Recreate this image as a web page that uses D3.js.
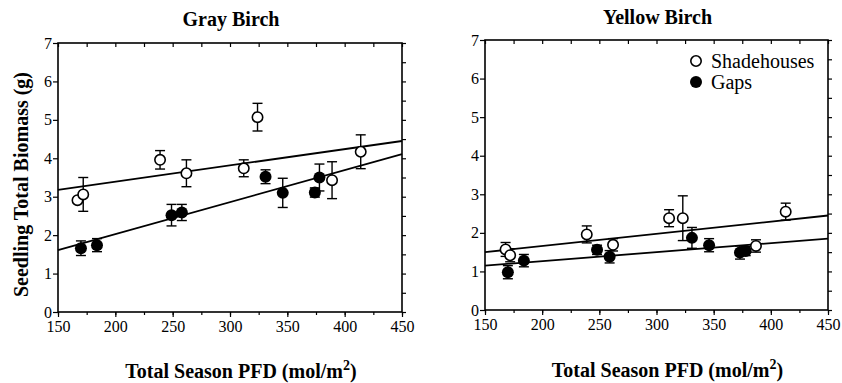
<!DOCTYPE html>
<html>
<head>
<meta charset="utf-8">
<script src="https://cdn.jsdelivr.net/npm/d3@7"></script>
<style>
  body { margin: 0; background: #fff; }
  svg { display: block; }
  svg text { font-family: "Liberation Serif", "Times New Roman", Times, serif; }
</style>
</head>
<body>
<div id="chart"></div>
<script>
// Data
const xTicks = [150, 200, 250, 300, 350, 400, 450]
const yTicks = [0, 1, 2, 3, 4, 5, 6, 7]
const fitX = [150, 450]

// Gray Birch
const grayShadeX = [167, 172, 239, 262, 312, 324, 389, 414]
const grayShadeY = [2.91, 3.06, 3.96, 3.61, 3.74, 5.07, 3.43, 4.17]
const grayShadeSE = [0, 0.44, 0.24, 0.35, 0.22, 0.36, 0.48, 0.44]
const grayGapsX = [170, 184, 249, 258, 331, 346, 374, 378]
const grayGapsY = [1.66, 1.74, 2.52, 2.59, 3.52, 3.10, 3.11, 3.50]
const grayGapsSE = [0.19, 0.17, 0.28, 0.21, 0.18, 0.38, 0.12, 0.35]
const grayShadeFit = [3.18, 4.45]
const grayGapsFit = [1.61, 4.11]

// Yellow Birch
const yellowShadeX = [168, 172, 239, 262, 311, 323, 387, 413]
const yellowShadeY = [1.57, 1.42, 1.96, 1.69, 2.38, 2.38, 1.66, 2.55]
const yellowShadeSE = [0.18, 0.17, 0.22, 0.16, 0.22, 0.58, 0.16, 0.22]
const yellowGapsX = [170, 184, 248, 259, 331, 346, 373, 378]
const yellowGapsY = [0.98, 1.28, 1.56, 1.38, 1.87, 1.68, 1.49, 1.53]
const yellowGapsSE = [0.17, 0.16, 0.12, 0.16, 0.27, 0.17, 0.17, 0.12]
const yellowShadeFit = [1.50, 2.45]
const yellowGapsFit = [1.15, 1.85]

const width = 842,
  height = 383,
  serif = '"Liberation Serif", "Times New Roman", Times, serif'

const svg = d3.select('#chart')
  .append('svg')
  .attr('width', width)
  .attr('height', height)

const toPoints = (xs, ys, se) => xs.map((x, i) => ({ x: x, y: ys[i], se: se[i] }))

const panels = [
  {
    title: 'Gray Birch', titleY: 26, labelY: 378,
    box: { left: 58, right: 402, bottom: 312, top: 43 },
    shade: toPoints(grayShadeX, grayShadeY, grayShadeSE),
    gaps: toPoints(grayGapsX, grayGapsY, grayGapsSE),
    fits: [grayShadeFit, grayGapsFit],
    yLabel: true, legend: false
  },
  {
    title: 'Yellow Birch', titleY: 23.5, labelY: 377,
    box: { left: 485, right: 828, bottom: 310, top: 40 },
    shade: toPoints(yellowShadeX, yellowShadeY, yellowShadeSE),
    gaps: toPoints(yellowGapsX, yellowGapsY, yellowGapsSE),
    fits: [yellowShadeFit, yellowGapsFit],
    yLabel: false, legend: true
  }
]

let drawPanel = (p) => {
  const b = p.box
  const x = d3.scaleLinear().domain([150, 450]).range([b.left, b.right])
  const y = d3.scaleLinear().domain([0, 7]).range([b.bottom, b.top])
  const g = svg.append('g')

  const minorX = d3.range(150, 451, 25)
  const minorY = d3.range(0, 7.01, 0.5)

  // bottom axis
  g.append('g')
    .attr('transform', `translate(0,${b.bottom})`)
    .call(d3.axisBottom(x).tickValues(minorX).tickSize(3).tickSizeOuter(0).tickFormat(''))
  g.append('g')
    .attr('transform', `translate(0,${b.bottom})`)
    .call(d3.axisBottom(x).tickValues(xTicks).tickSize(5).tickSizeOuter(0).tickPadding(4).tickFormat(d3.format('d')))
  // top axis, ticks inward
  g.append('g')
    .attr('transform', `translate(0,${b.top})`)
    .call(d3.axisBottom(x).tickValues(minorX).tickSize(4).tickSizeOuter(0).tickFormat(''))
  // left axis
  g.append('g')
    .attr('transform', `translate(${b.left},0)`)
    .call(d3.axisLeft(y).tickValues(yTicks).tickSize(5).tickSizeOuter(0).tickPadding(1).tickFormat(d3.format('d')))
  // right axis
  g.append('g')
    .attr('transform', `translate(${b.right},0)`)
    .call(d3.axisRight(y).tickValues(minorY).tickSize(4).tickSizeOuter(0).tickFormat(''))

  g.selectAll('.domain').remove()
  g.selectAll('g').attr('font-family', serif).attr('font-size', 16)
  g.selectAll('.tick line').attr('stroke', '#000').attr('stroke-width', 1.2)
  g.selectAll('.tick text').attr('fill', '#000')

  // frame
  g.append('rect')
    .attr('x', b.left).attr('y', b.top)
    .attr('width', b.right - b.left).attr('height', b.bottom - b.top)
    .attr('fill', 'none').attr('stroke', '#000').attr('stroke-width', 1.6)

  // fitted lines
  p.fits.forEach(f => {
    g.append('line')
      .attr('x1', x(fitX[0])).attr('y1', y(f[0]))
      .attr('x2', x(fitX[1])).attr('y2', y(f[1]))
      .attr('stroke', '#000').attr('stroke-width', 1.8)
  })

  // error bars
  const cap = 5
  const bars = [...p.shade, ...p.gaps].filter(d => d.se > 0)
  const eb = g.append('g').attr('stroke', '#000').attr('stroke-width', 1.4)
  eb.selectAll('line.v').data(bars).enter().append('line')
    .attr('x1', d => x(d.x)).attr('x2', d => x(d.x))
    .attr('y1', d => y(d.y + d.se)).attr('y2', d => y(d.y - d.se))
  eb.selectAll('line.t').data(bars).enter().append('line')
    .attr('x1', d => x(d.x) - cap).attr('x2', d => x(d.x) + cap)
    .attr('y1', d => y(d.y + d.se)).attr('y2', d => y(d.y + d.se))
  eb.selectAll('line.b').data(bars).enter().append('line')
    .attr('x1', d => x(d.x) - cap).attr('x2', d => x(d.x) + cap)
    .attr('y1', d => y(d.y - d.se)).attr('y2', d => y(d.y - d.se))

  // points
  g.selectAll('circle.shade').data(p.shade).enter().append('circle')
    .attr('cx', d => x(d.x)).attr('cy', d => y(d.y)).attr('r', 5.2)
    .attr('fill', '#fff').attr('stroke', '#000').attr('stroke-width', 1.6)
  g.selectAll('circle.gaps').data(p.gaps).enter().append('circle')
    .attr('cx', d => x(d.x)).attr('cy', d => y(d.y)).attr('r', 6)
    .attr('fill', '#000')

  // title
  g.append('text')
    .attr('x', (b.left + b.right) / 2 + 1).attr('y', p.titleY)
    .attr('text-anchor', 'middle')
    .attr('font-family', serif)
    .style('font-size', '20px').style('font-weight', 'bold')
    .text(p.title)

  // x label
  const xl = g.append('text')
    .attr('x', (b.left + b.right) / 2 + 11).attr('y', p.labelY)
    .attr('text-anchor', 'middle')
    .attr('font-family', serif)
    .style('font-size', '20px').style('font-weight', 'bold')
  xl.append('tspan').text('Total Season PFD (mol/m')
  xl.append('tspan').attr('dy', -8).style('font-size', '14px').text('2')
  xl.append('tspan').attr('dy', 8).text(')')

  if (p.yLabel) {
    g.append('text')
      .attr('transform', `translate(28,${(b.top + b.bottom) / 2 + 7}) rotate(-90)`)
      .attr('text-anchor', 'middle')
      .attr('font-family', serif)
      .style('font-size', '20px').style('font-weight', 'bold')
      .text('Seedling Total Biomass (g)')
  }

  if (p.legend) {
    const lx = b.right - 132, ly = b.top + 21
    g.append('circle').attr('cx', lx).attr('cy', ly).attr('r', 5.2)
      .attr('fill', '#fff').attr('stroke', '#000').attr('stroke-width', 1.6)
    g.append('text').attr('x', lx + 15).attr('y', ly + 6.5)
      .attr('font-family', serif).style('font-size', '20px').text('Shadehouses')
    g.append('circle').attr('cx', lx).attr('cy', ly + 21).attr('r', 6)
      .attr('fill', '#000')
    g.append('text').attr('x', lx + 15).attr('y', ly + 27.5)
      .attr('font-family', serif).style('font-size', '20px').text('Gaps')
  }
}

panels.forEach(drawPanel)
</script>
</body>
</html>
